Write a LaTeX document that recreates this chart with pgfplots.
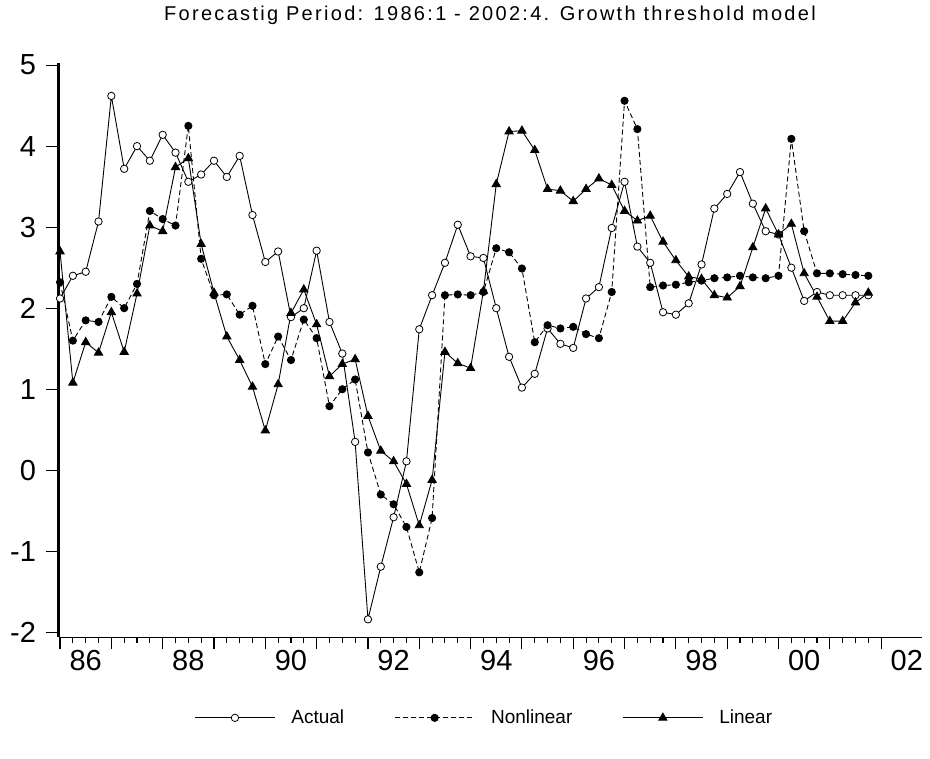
\documentclass[border=0pt]{standalone}
\usepackage{fontspec}
\setmainfont{Liberation Sans}
\usepackage{pgfplots}
\pgfplotsset{compat=1.18}
\usepackage{pgfplotstable}

\pgfplotstableread{
i actual nonlin lin
0 2.12 2.32 2.70
1 2.40 1.60 1.08
2 2.45 1.85 1.58
3 3.07 1.83 1.45
4 4.62 2.14 1.95
5 3.72 2.00 1.46
6 4.00 2.30 2.18
7 3.82 3.20 3.02
8 4.14 3.10 2.95
9 3.92 3.02 3.74
10 3.56 4.25 3.85
11 3.65 2.61 2.79
12 3.82 2.16 2.19
13 3.62 2.17 1.65
14 3.88 1.92 1.36
15 3.15 2.03 1.03
16 2.57 1.31 0.49
17 2.70 1.65 1.06
18 1.89 1.36 1.94
19 2.00 1.86 2.23
20 2.71 1.63 1.80
21 1.83 0.79 1.16
22 1.44 1.00 1.31
23 0.35 1.12 1.37
24 -1.84 0.22 0.67
25 -1.19 -0.30 0.24
26 -0.58 -0.42 0.11
27 0.11 -0.70 -0.17
28 1.74 -1.26 -0.68
29 2.16 -0.59 -0.12
30 2.56 2.16 1.46
31 3.03 2.17 1.32
32 2.64 2.16 1.26
33 2.62 2.20 2.21
34 2.00 2.74 3.53
35 1.40 2.69 4.18
36 1.02 2.49 4.19
37 1.19 1.58 3.95
38 1.75 1.79 3.47
39 1.56 1.75 3.45
40 1.51 1.77 3.32
41 2.12 1.68 3.47
42 2.26 1.63 3.60
43 2.99 2.20 3.52
44 3.56 4.56 3.20
45 2.76 4.21 3.08
46 2.56 2.26 3.14
47 1.95 2.28 2.82
48 1.92 2.29 2.59
49 2.06 2.32 2.39
50 2.54 2.34 2.36
51 3.23 2.37 2.16
52 3.41 2.38 2.13
53 3.68 2.40 2.27
54 3.29 2.38 2.75
55 2.95 2.37 3.23
56 2.91 2.40 2.91
57 2.50 4.09 3.04
58 2.09 2.95 2.43
59 2.20 2.43 2.14
60 2.16 2.43 1.84
61 2.16 2.42 1.84
62 2.16 2.41 2.07
63 2.16 2.40 2.19
}\data

\begin{document}
\begin{tikzpicture}[x=1pt,y=1pt]
\useasboundingbox (0,0) rectangle (930,759);
\begin{axis}[
  at={(58.5pt,121.5pt)}, anchor=south west,
  scale only axis, width=863.7pt, height=574pt,
  xmin=-0.12, xmax=67.2, ymin=-2.064, ymax=5.02,
  axis lines*=left,
  x axis line style={line width=1.3pt,-},
  y axis line style={line width=2.6pt,-},
  tick align=outside,
  tick style={black, line width=1.1pt},
  xtick={0,4,...,64}, xticklabels={},
  minor x tick num=3,
  major tick length=12pt, minor tick length=5.5pt,
  ytick={-2,-1,0,1,2,3,4,5},
  extra x ticks={2,10,18,26,34,42,50,58,66},
  extra x tick labels={86,88,90,92,94,96,98,00,02},
  extra x tick style={major tick length=0pt, tick style={draw=none},
    xticklabel style={yshift=-9pt}},
  yticklabel style={xshift=-7pt},
  /pgf/number format/assume math mode=true,
  tick label style={font=\fontsize{29}{34}\selectfont},
  title={Forecastig Period: 1986:1 - 2002:4. Growth threshold model},
  title style={at={(0.4996,1.074)}, anchor=center,
    font=\fontsize{20}{23}\selectfont\addfontfeatures{LetterSpace=11.5}},
  legend columns=3,
  legend style={at={(0.493,-0.14)}, anchor=center, draw=none,
    font=\fontsize{19}{22}\selectfont,
    /tikz/every odd column/.append style={column sep=14pt},
    /tikz/every even column/.append style={column sep=48pt}},
  legend image code/.code={\draw[mark repeat=2,mark phase=2,#1] plot coordinates {(0pt,0pt) (40pt,0pt) (80pt,0pt)};},
]
\addplot[black, line width=0.9pt, mark=*, mark size=3.7pt, mark options={fill=white, solid, line width=0.8pt}] table[x=i,y=actual] {\data};
\addlegendentry{Actual}
\addplot[black, line width=0.9pt, dash pattern=on 5pt off 3pt, mark=*, mark size=3.6pt, mark options={fill=black, solid}] table[x=i,y=nonlin] {\data};
\addlegendentry{Nonlinear}
\addplot[black, line width=0.9pt, mark=triangle*, mark size=4.7pt, mark options={fill=black, solid}] table[x=i,y=lin] {\data};
\addlegendentry{Linear}
\end{axis}
\end{tikzpicture}
\end{document}
